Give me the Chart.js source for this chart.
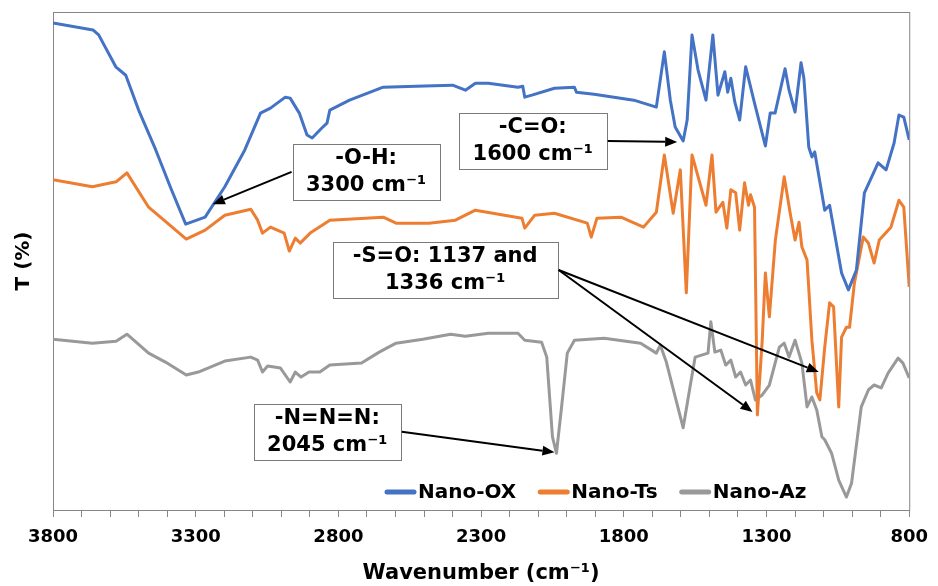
<!DOCTYPE html>
<html>
<head>
<meta charset="utf-8">
<script src="https://cdn.jsdelivr.net/npm/chart.js@4.4.0/dist/chart.umd.min.js"></script>
<style>
  html, body { margin: 0; padding: 0; background: #fff; }
  #ftir { display: block; }
</style>
</head>
<body>
<canvas id="ftir" width="938" height="586"></canvas>
<script>
// [wavenumber (cm-1), transmittance on an arbitrary 0-100 scale]
const nanoOX = [
  [3800, 97.8], [3660, 96.4], [3640, 95.4], [3580, 89.0], [3545, 87.3], [3500, 80.3],
  [3440, 72.3], [3385, 64.3], [3335, 57.4], [3267, 58.8], [3198, 64.9], [3128, 72.3],
  [3073, 79.7], [3038, 80.7], [2986, 82.9], [2969, 82.7], [2937, 79.7], [2910, 75.3],
  [2892, 74.7], [2858, 76.7], [2840, 77.7], [2830, 80.3], [2761, 82.3], [2643, 84.9],
  [2528, 85.1], [2400, 85.3], [2355, 84.3], [2320, 85.7], [2275, 85.7], [2171, 84.9],
  [2154, 85.1], [2147, 82.9], [2122, 83.3], [2043, 84.7], [1973, 84.9], [1966, 83.9],
  [1904, 83.5], [1765, 82.3], [1686, 80.9], [1658, 92.0], [1637, 82.3], [1620, 76.9],
  [1592, 74.1], [1578, 78.3], [1561, 95.4], [1540, 88.4], [1512, 82.3], [1488, 95.4],
  [1470, 83.3], [1446, 88.0], [1436, 83.9], [1425, 86.7], [1411, 81.9], [1394, 78.3],
  [1373, 89.0], [1342, 81.7], [1304, 73.1], [1287, 79.7], [1270, 79.7], [1235, 88.6],
  [1221, 84.3], [1200, 79.9], [1179, 89.8], [1169, 86.7], [1152, 72.9], [1141, 70.9],
  [1131, 71.9], [1096, 60.2], [1079, 61.2], [1037, 47.6], [1013, 44.2], [985, 48.2],
  [957, 63.7], [909, 69.7], [881, 68.3], [853, 73.7], [836, 79.3], [819, 78.9], [800, 74.3]
];
const nanoTs = [
  [3800, 66.3], [3662, 64.9], [3579, 65.9], [3541, 67.7], [3465, 60.8], [3333, 54.4],
  [3267, 56.2], [3198, 59.2], [3107, 60.4], [3083, 58.2], [3066, 55.6], [3038, 56.8],
  [2990, 55.6], [2972, 52.0], [2951, 54.6], [2934, 53.6], [2899, 55.6], [2830, 58.2],
  [2643, 58.8], [2598, 57.6], [2483, 57.6], [2390, 58.2], [2320, 60.2], [2157, 58.6],
  [2147, 56.6], [2112, 59.2], [2043, 59.6], [1928, 57.6], [1914, 54.8], [1894, 58.6],
  [1810, 58.8], [1731, 56.8], [1686, 59.8], [1658, 71.3], [1627, 59.6], [1602, 68.3],
  [1581, 43.6], [1561, 71.3], [1512, 61.2], [1491, 71.3], [1477, 59.8], [1453, 61.8],
  [1439, 56.6], [1425, 64.3], [1408, 63.7], [1394, 56.2], [1377, 65.7], [1363, 61.2],
  [1356, 63.3], [1342, 60.8], [1332, 19.1], [1315, 34.1], [1304, 47.6], [1290, 38.8],
  [1269, 54.2], [1238, 66.9], [1217, 59.6], [1200, 54.2], [1186, 57.8], [1176, 52.8],
  [1158, 50.2], [1141, 34.1], [1124, 23.5], [1113, 22.1], [1096, 32.7], [1079, 41.6],
  [1065, 40.8], [1047, 20.7], [1037, 34.7], [1020, 36.7], [1009, 36.7], [992, 45.6],
  [961, 54.8], [943, 53.6], [923, 49.6], [905, 54.2], [864, 56.8], [836, 62.2],
  [819, 60.8], [800, 44.8]
];
const nanoAz = [
  [3800, 34.3], [3662, 33.5], [3579, 33.9], [3541, 35.3], [3465, 31.5], [3406, 29.7],
  [3333, 27.1], [3291, 27.7], [3198, 29.9], [3107, 30.7], [3083, 30.1], [3066, 27.7],
  [3048, 28.9], [3003, 28.5], [2969, 25.7], [2951, 27.7], [2931, 26.7], [2903, 27.7],
  [2865, 27.7], [2830, 29.1], [2719, 29.5], [2657, 31.7], [2598, 33.5], [2504, 34.3],
  [2407, 35.3], [2355, 34.9], [2275, 35.5], [2171, 35.5], [2147, 34.1], [2088, 33.7],
  [2070, 30.7], [2050, 14.7], [2036, 11.4], [2018, 20.7], [1998, 31.5], [1973, 34.1],
  [1869, 34.5], [1741, 33.5], [1686, 31.5], [1672, 33.1], [1651, 29.7], [1592, 16.5],
  [1568, 24.7], [1550, 30.7], [1505, 31.5], [1495, 37.8], [1481, 31.7], [1460, 32.1],
  [1443, 29.1], [1425, 30.1], [1408, 26.7], [1391, 27.7], [1373, 25.1], [1356, 26.1],
  [1339, 22.1], [1315, 23.1], [1290, 25.1], [1255, 32.7], [1238, 33.5], [1221, 30.7],
  [1200, 34.1], [1176, 29.5], [1158, 20.7], [1141, 22.7], [1124, 20.1], [1106, 14.7],
  [1096, 14.1], [1072, 11.4], [1047, 6.0], [1020, 2.6], [1002, 5.4], [968, 20.7],
  [943, 24.1], [923, 25.1], [898, 24.5], [874, 27.5], [839, 30.5], [822, 29.5], [800, 26.5]
];

const seriesNames = ['Nano-OX', 'Nano-Ts', 'Nano-Az'];
const seriesData = [nanoOX, nanoTs, nanoAz];
const seriesColors = ['#4472C4', '#ED7D31', '#999999'];
const tickLabels = [3800, 3300, 2800, 2300, 1800, 1300, 800];

// annotation boxes: centre in data units, arrows point at data positions
const notes = [
  { lines: ['-O-H:', '3300 cm⁻¹'], at: [2703, 67.9], w: 147, side: 'left', tips: [[3240, 61.4]] },
  { lines: ['-C=O:', '1600 cm⁻¹'], at: [2119, 74.1], w: 148, side: 'right', tips: [[1613, 73.9]] },
  { lines: ['-S=O: 1137 and', '1336 cm⁻¹'], at: [2426, 48.2], w: 225, side: 'right', tips: [[1117, 27.7], [1349, 19.7]] },
  { lines: ['-N=N=N:', '2045 cm⁻¹'], at: [2839, 15.7], w: 147, side: 'right', tips: [[2043, 11.6]] }
];

const FONT = "'DejaVu Sans', sans-serif";
const FRAME = '#868686';

function drawArrow(ctx, x0, y0, x1, y1) {
  const ang = Math.atan2(y1 - y0, x1 - x0);
  const head = 12, half = 5;
  const bx = x1 - head * Math.cos(ang), by = y1 - head * Math.sin(ang);
  ctx.beginPath();
  ctx.moveTo(x0, y0);
  ctx.lineTo(bx, by);
  ctx.stroke();
  ctx.beginPath();
  ctx.moveTo(x1, y1);
  ctx.lineTo(bx + half * Math.sin(ang), by - half * Math.cos(ang));
  ctx.lineTo(bx - half * Math.sin(ang), by + half * Math.cos(ang));
  ctx.closePath();
  ctx.fill();
}

const decorations = {
  id: 'decorations',
  beforeDatasetsDraw(chart) {
    const { ctx, chartArea: a } = chart;
    ctx.save();
    ctx.strokeStyle = FRAME;
    ctx.lineWidth = 1;
    ctx.strokeRect(a.left + 0.5, a.top + 0.5, a.right - a.left, a.bottom - a.top);
    ctx.restore();
  },
  afterDraw(chart) {
    const { ctx, chartArea: a, scales } = chart;
    const sx = scales.x, sy = scales.y;
    ctx.save();

    // legend inside the plot, bottom right
    ctx.font = 'bold 20px ' + FONT;
    ctx.textBaseline = 'middle';
    ctx.textAlign = 'left';
    let lx = 385;
    const ly = a.bottom - 18;
    seriesNames.forEach((name, i) => {
      ctx.strokeStyle = seriesColors[i];
      ctx.lineWidth = 5;
      ctx.lineCap = 'round';
      ctx.beginPath();
      ctx.moveTo(lx + 2, ly);
      ctx.lineTo(lx + 29, ly);
      ctx.stroke();
      ctx.fillStyle = '#000';
      ctx.fillText(name, lx + 33, ly + 1);
      lx += 33 + ctx.measureText(name).width + 22;
    });

    // annotation boxes and arrows
    ctx.lineCap = 'butt';
    notes.forEach(n => {
      const cx = sx.getPixelForValue(n.at[0]);
      const cy = sy.getPixelForValue(n.at[1]);
      const w = n.w, h = 56;
      const left = cx - w / 2, top = cy - h / 2;
      ctx.fillStyle = '#fff';
      ctx.fillRect(left, top, w, h);
      ctx.strokeStyle = '#7a7a7a';
      ctx.lineWidth = 1;
      ctx.strokeRect(Math.round(left) + 0.5, Math.round(top) + 0.5, w, h);
      ctx.fillStyle = '#000';
      ctx.font = 'bold 21px ' + FONT;
      ctx.textAlign = 'center';
      ctx.fillText(n.lines[0], cx, cy - 13);
      ctx.fillText(n.lines[1], cx, cy + 14);

      ctx.strokeStyle = '#000';
      ctx.fillStyle = '#000';
      ctx.lineWidth = 2;
      const x0 = n.side === 'left' ? left - 1 : left + w + 1;
      n.tips.forEach(t => {
        drawArrow(ctx, x0, cy, sx.getPixelForValue(t[0]), sy.getPixelForValue(t[1]));
      });
    });
    ctx.restore();
  }
};

new Chart(document.getElementById('ftir'), {
  type: 'line',
  data: {
    datasets: seriesNames.map((name, i) => ({
      label: name,
      data: seriesData[i].map(p => ({ x: p[0], y: p[1] })),
      borderColor: seriesColors[i],
      backgroundColor: seriesColors[i],
      borderWidth: 3,
      borderJoinStyle: 'round',
      pointRadius: 0,
      tension: 0,
      fill: false
    }))
  },
  options: {
    responsive: false,
    animation: false,
    layout: { padding: { top: 12, right: 20, left: 0, bottom: 0 } },
    plugins: {
      legend: { display: false },
      tooltip: { enabled: false }
    },
    scales: {
      x: {
        type: 'linear',
        reverse: true,
        min: 800,
        max: 3800,
        ticks: {
          stepSize: 100,
          autoSkip: false,
          maxRotation: 0,
          padding: 10,
          color: '#000',
          font: { family: FONT, size: 18, weight: 'bold' },
          callback: v => tickLabels.includes(v) ? String(v) : ''
        },
        grid: { drawOnChartArea: false, drawTicks: true, tickLength: 7, color: FRAME },
        border: { display: true, color: FRAME },
        title: {
          display: true,
          text: 'Wavenumber (cm⁻¹)',
          color: '#000',
          font: { family: FONT, size: 21, weight: 'bold' },
          padding: { top: 2, bottom: 0 }
        },
        afterFit: axis => { axis.height = 76; }
      },
      y: {
        min: 0,
        max: 100,
        ticks: { display: false },
        grid: { display: false },
        border: { display: true, color: FRAME },
        title: {
          display: true,
          text: 'T (%)',
          color: '#000',
          font: { family: FONT, size: 20, weight: 'bold' },
          padding: { top: 12, bottom: 0 }
        },
        afterFit: axis => { axis.width = 53; }
      }
    }
  },
  plugins: [decorations]
});
</script>
</body>
</html>
